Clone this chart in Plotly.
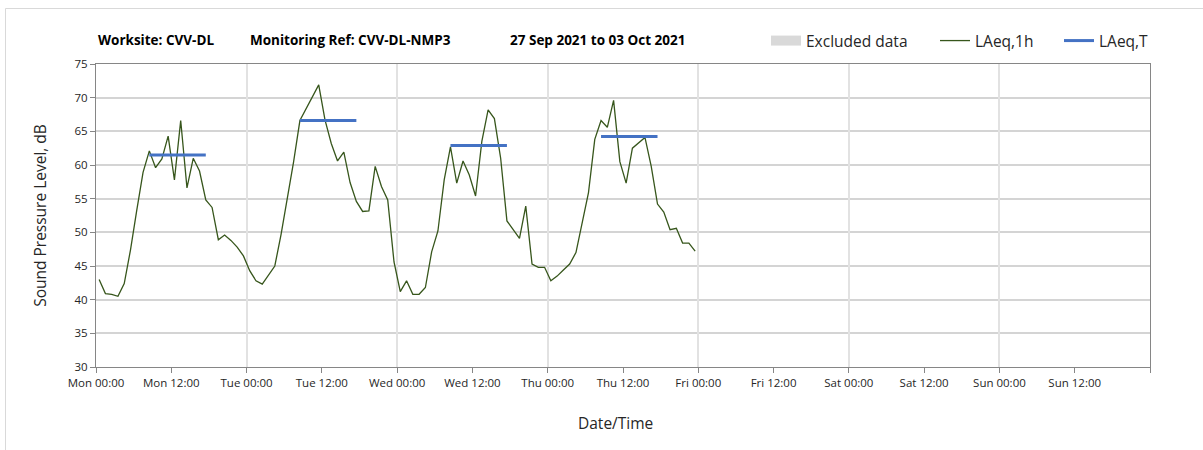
import plotly.graph_objects as go
import pandas as pd

# ---------------- data ----------------
series_start = "2021-09-27 00:30"
laeq_1h = [
    # Mon
    43.0, 40.9, 40.8, 40.5, 42.4, 47.4, 53.3, 58.9, 62.1, 59.6, 60.9, 64.3,
    57.8, 66.6, 56.6, 61.0, 59.1, 54.8, 53.7, 48.9, 49.6, 48.8, 47.8, 46.5,
    # Tue
    44.3, 42.8, 42.3, 43.7, 45.0, 49.7, 55.0, 60.5, 66.6, 68.3, 70.0, 71.9,
    66.7, 63.2, 60.6, 61.9, 57.4, 54.6, 53.1, 53.2, 59.8, 56.8, 54.8, 45.6,
    # Wed
    41.2, 42.8, 40.8, 40.8, 41.8, 47.1, 50.2, 57.8, 62.7, 57.3, 60.6, 58.5,
    55.4, 63.5, 68.2, 66.9, 61.0, 51.7, 50.4, 49.1, 53.9, 45.3, 44.8, 44.8,
    # Thu
    42.8, 43.5, 44.4, 45.3, 47.0, 51.6, 55.9, 63.8, 66.6, 65.6, 69.6, 60.5,
    57.3, 62.5, 63.3, 64.1, 59.8, 54.2, 53.0, 50.4, 50.6, 48.4, 48.4, 47.2,
]
laeq_t_days = ["2021-09-27", "2021-09-28", "2021-09-29", "2021-09-30"]
laeq_t_values = [61.5, 66.6, 62.9, 64.25]
laeq_t_period = ("08:30", "17:30")

excluded_x = []   # no excluded periods in this week
excluded_y = []

axis_start = "2021-09-27 00:00"
axis_end = "2021-10-04 00:00"
y_range = [30, 75]

title_parts = ["Worksite: CVV-DL", "Monitoring Ref: CVV-DL-NMP3", "27 Sep 2021 to 03 Oct 2021"]
x_title = "Date/Time"
y_title = "Sound Pressure Level, dB"

# ---------------- build ----------------
times = pd.date_range(series_start, periods=len(laeq_1h), freq="h")

t_x, t_y = [], []
for d, v in zip(laeq_t_days, laeq_t_values):
    t_x += [pd.Timestamp(f"{d} {laeq_t_period[0]}"), pd.Timestamp(f"{d} {laeq_t_period[1]}"), None]
    t_y += [v, v, None]

tick_vals = pd.date_range(axis_start, axis_end, freq="12h")
tick_text = [t.strftime("%a %H:%M") for t in tick_vals[:-1]] + [""]

FONT = "Open Sans"
TXT = "#262626"

fig = go.Figure()

# day grid lines via overlay axis
fig.add_trace(go.Scatter(x=[], y=[], xaxis="x2", showlegend=False, hoverinfo="skip"))

fig.add_trace(go.Scatter(
    x=excluded_x or [times[0]], y=excluded_y or [None], mode="lines", name="Excluded data",
    line=dict(color="#d9d9d9", width=10), legend="legend", showlegend=True,
))
fig.add_trace(go.Scatter(
    x=times, y=laeq_1h, mode="lines", name="LAeq,1h",
    line=dict(color="#37561c", width=1.3), legend="legend2",
))
fig.add_trace(go.Scatter(
    x=t_x, y=t_y, mode="lines", name="LAeq,T",
    line=dict(color="#4472c4", width=3), legend="legend3", connectgaps=False,
))

L, R, T, B = 96, 1150, 64, 367
W, H = 1203, 450
pw = R - L

def px2paper(px):
    return (px - L) / pw

def py2paper(py):
    return (B - py) / (B - T)

leg_common = dict(orientation="h", yanchor="middle", xanchor="left",
                  font=dict(family=FONT, size=15.5, color=TXT),
                  bgcolor="rgba(0,0,0,0)", borderwidth=0)

fig.update_layout(
    width=W, height=H,
    margin=dict(l=L, r=W - R, t=T, b=H - B),
    paper_bgcolor="white", plot_bgcolor="white",
    font=dict(family=FONT, color=TXT),
    legend=dict(x=px2paper(766), y=py2paper(41), **leg_common),
    legend2=dict(x=px2paper(935), y=py2paper(41), **leg_common),
    legend3=dict(x=px2paper(1059), y=py2paper(41), **leg_common),
    xaxis=dict(
        type="date", range=[axis_start, axis_end],
        tickmode="array", tickvals=tick_vals, ticktext=tick_text,
        ticks="outside", ticklen=5, tickcolor="#868686",
        showgrid=False, showline=True, linecolor="#868686", linewidth=1, mirror=True,
        tickfont=dict(family=FONT, size=11.5, color=TXT),
        zeroline=False,
    ),
    xaxis2=dict(
        type="date", range=[axis_start, axis_end], overlaying="x", anchor="y",
        tickmode="linear", tick0=axis_start, dtick=24 * 3600 * 1000,
        showgrid=True, gridcolor="#e2e2e2", gridwidth=1.5,
        showticklabels=False, ticks="", showline=False, zeroline=False,
    ),
    yaxis=dict(
        range=y_range, dtick=5, tick0=30,
        ticks="outside", ticklen=5, tickcolor="#868686",
        showgrid=True, gridcolor="#d4d4d4", gridwidth=1.5,
        showline=True, linecolor="#868686", linewidth=1, mirror=True,
        tickfont=dict(family=FONT, size=11.5, color=TXT),
        title=dict(text=y_title, font=dict(family=FONT, size=15.5, color=TXT), standoff=24),
        zeroline=False,
    ),
    shapes=[dict(type="rect", xref="paper", yref="paper",
                 x0=px2paper(5.5), x1=px2paper(1210), y0=py2paper(460), y1=py2paper(8.5),
                 line=dict(color="#d9d9d9", width=1), fillcolor="rgba(0,0,0,0)", layer="below")],
)

fig.add_annotation(text=x_title, xref="paper", yref="paper",
                   x=px2paper(615), y=py2paper(423), xanchor="center", yanchor="middle",
                   showarrow=False, font=dict(family=FONT, size=15.5, color=TXT))

title_x = [96, 248, 508]
for txt, px in zip(title_parts, title_x):
    fig.add_annotation(text=f"<b>{txt}</b>", xref="paper", yref="paper",
                       x=px2paper(px), y=py2paper(40), xanchor="left", yanchor="middle",
                       showarrow=False, font=dict(family=FONT, size=13.5, color="#000000"))

fig.write_html("out.html", config={"displayModeBar": False},
               post_script="document.body.style.margin='0px';")
